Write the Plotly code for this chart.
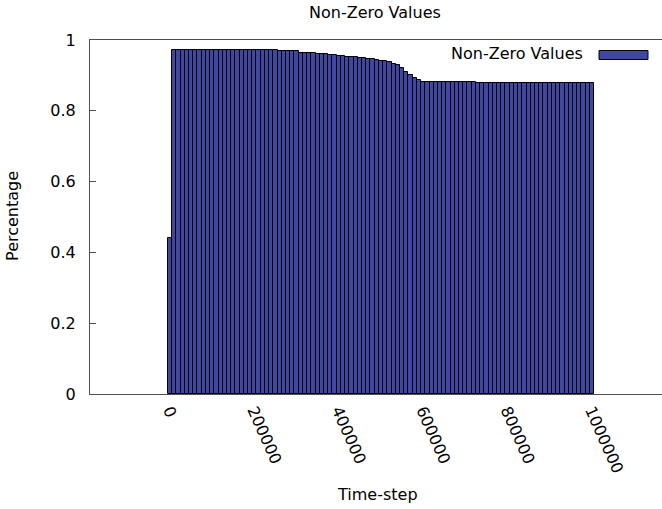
import plotly.graph_objects as go

# ---- data ----
time_steps = [
    0, 10000, 20000, 30000, 40000, 50000, 60000, 70000, 80000, 90000,
    100000, 110000, 120000, 130000, 140000, 150000, 160000, 170000, 180000, 190000,
    200000, 210000, 220000, 230000, 240000, 250000, 260000, 270000, 280000, 290000,
    300000, 310000, 320000, 330000, 340000, 350000, 360000, 370000, 380000, 390000,
    400000, 410000, 420000, 430000, 440000, 450000, 460000, 470000, 480000, 490000,
    500000, 510000, 520000, 530000, 540000, 550000, 560000, 570000, 580000, 590000,
    600000, 610000, 620000, 630000, 640000, 650000, 660000, 670000, 680000, 690000,
    700000, 710000, 720000, 730000, 740000, 750000, 760000, 770000, 780000, 790000,
    800000, 810000, 820000, 830000, 840000, 850000, 860000, 870000, 880000, 890000,
    900000, 910000, 920000, 930000, 940000, 950000, 960000, 970000, 980000, 990000,
    1000000,
]
non_zero = [
    0.44,
    0.972, 0.972, 0.972, 0.972, 0.972, 0.972, 0.972, 0.972, 0.972, 0.972,
    0.972, 0.972, 0.972, 0.972, 0.972, 0.972, 0.972, 0.972, 0.972, 0.972,
    0.972, 0.972, 0.972, 0.972, 0.972,
    0.968, 0.968, 0.968, 0.968, 0.968,
    0.964, 0.964, 0.964, 0.964,
    0.961, 0.961, 0.961,
    0.958, 0.958,
    0.956, 0.956,
    0.953, 0.953, 0.953,
    0.949, 0.949,
    0.946, 0.946,
    0.944,
    0.941, 0.941,
    0.937, 0.933, 0.929, 0.921, 0.909, 0.900, 0.893, 0.887,
    0.880, 0.880, 0.880, 0.880, 0.880, 0.880, 0.880, 0.880, 0.880, 0.880,
    0.880, 0.880, 0.880,
    0.878, 0.878, 0.878, 0.878, 0.878, 0.878, 0.878, 0.878, 0.878, 0.878,
    0.878, 0.878, 0.878, 0.878, 0.878, 0.878, 0.878, 0.878, 0.878, 0.878,
    0.878, 0.878, 0.878, 0.878, 0.878, 0.878, 0.878, 0.878,
]
x_tick_vals = [0, 200000, 400000, 600000, 800000, 1000000]
x_tick_text = ["0", "200000", "400000", "600000", "800000", "1000000"]
y_tick_vals = [0, 0.2, 0.4, 0.6, 0.8, 1]
y_tick_text = ["0", "0.2", "0.4", "0.6", "0.8", "1"]

series_name = "Non-Zero Values"
BAR_COLOR = "#3f47a3"
FONT = "DejaVu Sans"
FS = 16

fig = go.Figure()
fig.add_trace(go.Bar(
    x=time_steps, y=non_zero, width=10000,
    marker=dict(color=BAR_COLOR, line=dict(color="black", width=1)),
    name=series_name, showlegend=False,
))

fig.update_layout(
    width=662, height=509,
    margin=dict(l=90, r=0, t=40, b=115),
    paper_bgcolor="white", plot_bgcolor="white",
    font=dict(family=FONT, size=FS, color="black"),
    bargap=0,
    xaxis=dict(
        range=[-189500, 1165900],
        tickvals=x_tick_vals, ticktext=x_tick_text,
        tickangle=66, ticks="", showgrid=False, zeroline=False,
        showline=True, linecolor="#505050", linewidth=1, mirror=True,
        tickfont=dict(family=FONT, size=FS),
    ),
    yaxis=dict(
        range=[0, 1],
        tickvals=y_tick_vals, ticktext=y_tick_text,
        ticks="inside", ticklen=6, tickcolor="#505050",
        showgrid=False, zeroline=False,
        showline=True, linecolor="#505050", linewidth=1,
        ticklabelstandoff=10,
        tickfont=dict(family=FONT, size=FS),
    ),
    annotations=[
        dict(text=series_name, xref="paper", yref="paper", x=0.498, y=1.079,
             xanchor="center", yanchor="middle", showarrow=False,
             font=dict(family=FONT, size=FS)),
        dict(text="Time-step", xref="paper", yref="paper", x=0.502, y=-0.2825,
             xanchor="center", yanchor="middle", showarrow=False,
             font=dict(family=FONT, size=FS)),
        dict(text="Percentage", xref="paper", yref="paper", x=-0.1346, y=0.503,
             xanchor="center", yanchor="middle", showarrow=False, textangle=-90,
             font=dict(family=FONT, size=FS)),
        dict(text=series_name, xref="paper", yref="paper", x=0.8654, y=0.9605,
             xanchor="right", yanchor="middle", showarrow=False,
             font=dict(family=FONT, size=FS)),
    ],
    shapes=[
        dict(type="rect", xref="paper", yref="paper",
             x0=0.8899, x1=0.9755, y0=0.9449, y1=0.9703,
             fillcolor=BAR_COLOR, line=dict(color="black", width=1)),
    ],
)

fig.write_html("out.html")
